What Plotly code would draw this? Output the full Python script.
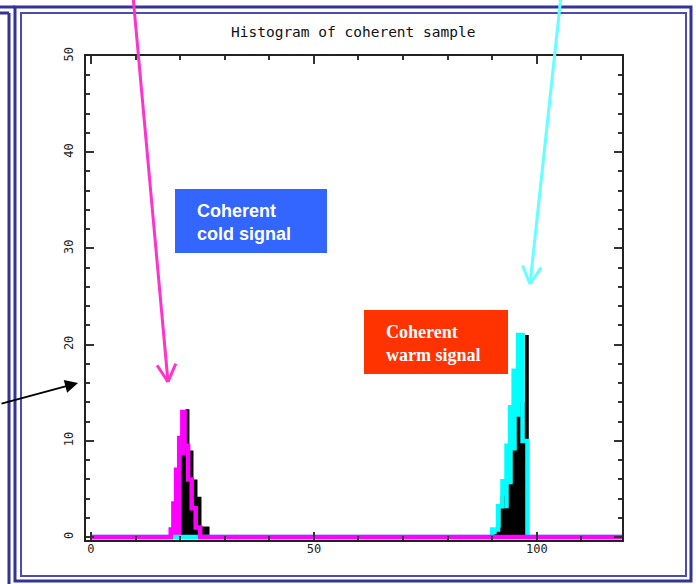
import math
import plotly.graph_objects as go

W, H = 696, 584

# ---- data ----
bin_width = 0.9
black_x = [20.75, 21.65, 22.55, 23.45, 24.35, 25.25, 26.15,
           90.55, 91.45, 92.35, 93.25, 94.15, 95.05, 95.95, 96.85, 97.75]
black_y = [8.5, 13.3, 9.0, 6.0, 4.2, 1.1, 1.1,
           0.3, 1.0, 4.3, 3.0, 5.5, 9.0, 12.5, 14.0, 21.0]

cold_x = [0, 17.9, 18.5, 19.1, 19.8, 20.5, 21.0, 21.8, 22.6, 23.5, 24.5, 120]
cold_y = [0, 0.8, 3.5, 7.0, 10.3, 13.0, 9.5, 6.0, 3.0, 1.0, 0, 0]

warm_x = [0, 90.0, 91.3, 92.3, 93.2, 94.0, 94.8, 95.8, 96.8, 97.9, 120]
warm_y = [0, 0.8, 3.2, 5.8, 9.5, 13.5, 17.3, 21.0, 10.0, 0, 0]

x_ticks = [0, 50, 100]
y_ticks = [0, 10, 20, 30, 40, 50]

title_text = "Histogram of coherent sample"
cold_label = "<b>Coherent<br>cold signal</b>"
warm_label = "<b>Coherent<br>warm signal</b>"


def P(px, py):
    return px / W, 1 - py / H


# black histogram bars as closed polygons (so they can sit between scatter layers)
bx_poly, by_poly = [], []
for c, h in zip(black_x, black_y):
    l, r = c - bin_width / 2, c + bin_width / 2
    bx_poly += [l, l, r, r, l, None]
    by_poly += [0, h, h, 0, 0, None]

fig = go.Figure()
fig.add_trace(go.Scatter(x=cold_x, y=cold_y, mode="lines", fill="tozeroy",
                         fillcolor="#ff00ff", line=dict(width=0, shape="hv"),
                         showlegend=False, hoverinfo="skip"))
fig.add_trace(go.Scatter(x=warm_x, y=warm_y, mode="lines", fill="tozeroy",
                         fillcolor="#00ffff", line=dict(width=0, shape="hv"),
                         showlegend=False, hoverinfo="skip"))
fig.add_trace(go.Scatter(x=bx_poly, y=by_poly, mode="lines", fill="toself",
                         fillcolor="black", line=dict(width=0, color="black"),
                         showlegend=False, hoverinfo="skip"))
fig.add_trace(go.Scatter(x=warm_x, y=warm_y, mode="lines",
                         line=dict(color="#00ffff", width=4.5, shape="hv"),
                         showlegend=False, hoverinfo="skip"))
fig.add_trace(go.Scatter(x=cold_x, y=cold_y, mode="lines",
                         line=dict(color="#ff00ff", width=4.5, shape="hv"),
                         showlegend=False, hoverinfo="skip"))

tickfont = dict(family="DejaVu Sans Mono", size=12, color="#222")

shapes = []
NAVY = "#333399"
NAVY2 = "#4c4cae"


def rect(x0, y0, x1, y1, color, width, fill=None):
    a = P(x0, y0)
    b = P(x1, y1)
    d = dict(type="rect", xref="paper", yref="paper",
             x0=a[0], y0=b[1], x1=b[0], y1=a[1],
             line=dict(color=color, width=width))
    if fill:
        d["fillcolor"] = fill
    return d


def seg(x0, y0, x1, y1, color, width):
    a = P(x0, y0)
    b = P(x1, y1)
    return dict(type="line", xref="paper", yref="paper",
                x0=a[0], y0=a[1], x1=b[0], y1=b[1],
                line=dict(color=color, width=width))


# frames
shapes.append(rect(15, 7, 691, 581, NAVY, 3))
shapes.append(rect(21, 13, 686, 576, NAVY2, 2))
shapes.append(seg(0, 7, 15, 7, NAVY, 3))
shapes.append(seg(0, 13, 9, 13, NAVY, 3))
shapes.append(seg(9, 13, 9, 584, NAVY, 3))

# text boxes
shapes.append(rect(175, 189, 327, 253, "#3366ff", 0, fill="#3366ff"))
shapes.append(rect(364, 310, 508, 374, "#ff3300", 0, fill="#ff3300"))


def varrow(tx, ty, hx, hy, color, width, L=20):
    out = [seg(tx, ty, hx, hy, color, width)]
    dx, dy = tx - hx, ty - hy
    n = math.hypot(dx, dy)
    dx, dy = dx / n, dy / n
    for ang in (math.radians(28), -math.radians(28)):
        rx = dx * math.cos(ang) - dy * math.sin(ang)
        ry = dx * math.sin(ang) + dy * math.cos(ang)
        out.append(seg(hx, hy, hx + L * rx, hy + L * ry, color, width))
    return out


shapes += varrow(133, -4, 168, 382, "#ff33cc", 3)
shapes += varrow(561, -4, 530, 284, "#66ffff", 3)

annotations = []
tx, ty = P(353, 32)
annotations.append(dict(x=tx, y=ty, xref="paper", yref="paper", text=title_text,
                        showarrow=False, xanchor="center", yanchor="middle",
                        font=dict(family="DejaVu Sans Mono", size=14.5, color="#111")))
cx, cy = P(195, 222)
annotations.append(dict(x=cx, y=cy, xref="paper", yref="paper", text=cold_label,
                        showarrow=False, xanchor="left", yanchor="middle", align="left",
                        font=dict(family="Liberation Sans", size=18, color="white")))
wx, wy = P(384, 343)
annotations.append(dict(x=wx, y=wy, xref="paper", yref="paper", text=warm_label,
                        showarrow=False, xanchor="left", yanchor="middle", align="left",
                        font=dict(family="Liberation Serif", size=18, color="white")))
ax_, ay_ = P(78, 383)
annotations.append(dict(x=ax_, y=ay_, xref="paper", yref="paper", text="",
                        showarrow=True, arrowhead=2, arrowsize=1.3, arrowwidth=2,
                        arrowcolor="black", axref="pixel", ayref="pixel",
                        ax=-80, ay=21, standoff=0))

fig.update_layout(
    width=W, height=H,
    margin=dict(l=0, r=0, t=0, b=0, autoexpand=False),
    paper_bgcolor="white", plot_bgcolor="white",
    shapes=shapes,
    annotations=annotations,
    xaxis=dict(domain=[86 / W, 622 / W], range=[-1.1, 119.1],
               showline=True, linecolor="#222", linewidth=2, mirror="ticks",
               ticks="inside", ticklen=8, tickwidth=1.5, tickcolor="#333",
               tickvals=x_ticks, ticktext=[str(v) for v in x_ticks],
               minor=dict(dtick=10, tick0=0, ticks="inside", ticklen=4, tickcolor="#333", tickwidth=1.5),
               showgrid=False, zeroline=False, tickfont=tickfont, ticklabelstandoff=-3),
    yaxis=dict(domain=[1 - 540 / H, 1 - 56 / H], range=[-0.3, 50],
               showline=True, linecolor="#222", linewidth=2, mirror="ticks",
               ticks="inside", ticklen=8, tickwidth=1.5, tickcolor="#333",
               tickvals=y_ticks, ticktext=[str(v) for v in y_ticks], tickangle=-90,
               minor=dict(dtick=2, tick0=0, ticks="inside", ticklen=4, tickcolor="#333", tickwidth=1.5),
               showgrid=False, zeroline=False, tickfont=tickfont, ticklabelstandoff=6),
)

fig.write_html("out.html")
